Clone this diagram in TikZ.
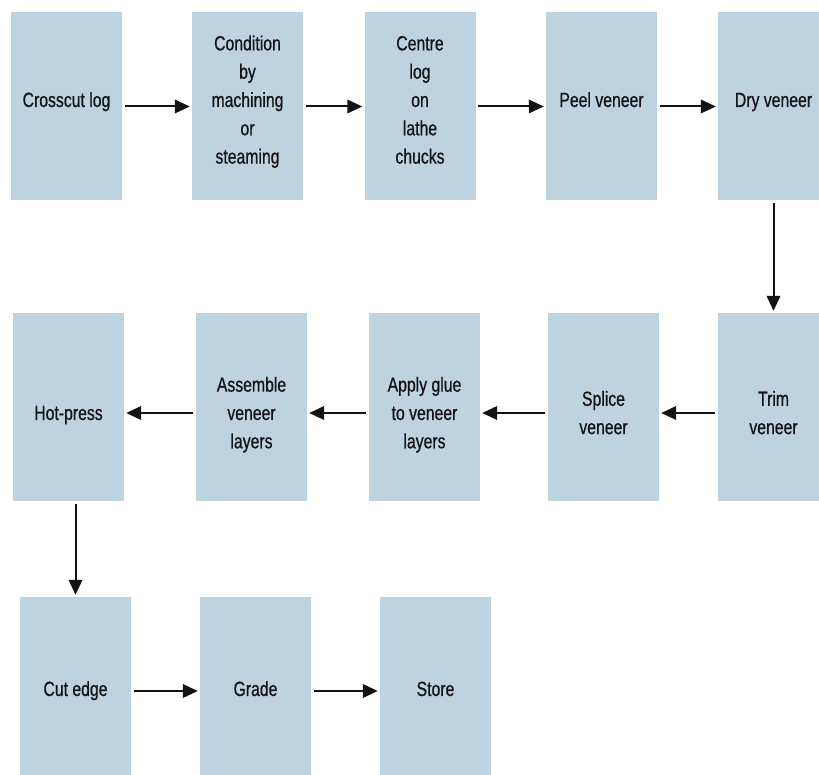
\documentclass[tikz,border=0pt]{standalone}
\usepackage{fontspec}
\setmainfont{Liberation Sans}[FakeStretch=0.77,FakeBold=0.6]
\usetikzlibrary{arrows.meta}
\definecolor{boxfill}{RGB}{189,212,224}
\definecolor{ink}{RGB}{20,18,18}
\newcommand{\lbl}[2]{\raisebox{#1}[0pt][0pt]{\begin{tabular}{@{}c@{}}#2\end{tabular}}}
\tikzset{
  stepbox/.style={rectangle, fill=boxfill, draw=none, minimum width=111pt,
    minimum height=188pt, inner sep=0pt, text=ink,
    font=\fontsize{20.5}{28.3}\selectfont},
  flow/.style={-{Triangle[length=15pt,width=13.5pt]}, line width=2pt, draw=ink,
    shorten <=2.5pt, shorten >=2pt},
}
\begin{document}
\begin{tikzpicture}[x=1pt,y=-1pt]
\useasboundingbox (0,0) rectangle (819,775);
\clip (0,0) rectangle (819,775);
% row 1
\node[stepbox] (b1) at (66.5,106.5) {\lbl{0pt}{Crosscut log}};
\node[stepbox] (b2) at (247.5,106.5) {\lbl{0pt}{Condition\\by\\machining\\or\\steaming}};
\node[stepbox] (b3) at (420,106.5) {\lbl{0pt}{Centre\\log\\on\\lathe\\chucks}};
\node[stepbox] (b4) at (601.5,106.5) {\lbl{0pt}{Peel veneer}};
\node[stepbox] (b5) at (773.5,106.5) {\lbl{0pt}{Dry veneer}};
% row 2
\node[stepbox] (b6) at (773.5,407) {\lbl{-12.5pt}{Trim\\veneer}};
\node[stepbox] (b7) at (603.5,407) {\lbl{-12.5pt}{Splice\\veneer}};
\node[stepbox] (b8) at (424.5,407) {\lbl{-12.5pt}{Apply glue\\to veneer\\layers}};
\node[stepbox] (b9) at (251.5,407) {\lbl{-12.5pt}{Assemble\\veneer\\layers}};
\node[stepbox] (b10) at (68.5,407) {\lbl{-12.5pt}{Hot-press}};
% row 3
\node[stepbox] (b11) at (75.5,691) {\lbl{-4.5pt}{Cut edge}};
\node[stepbox] (b12) at (255.5,691) {\lbl{-4.5pt}{Grade}};
\node[stepbox] (b13) at (435.5,691) {\lbl{-4.5pt}{Store}};
% connectors
\draw[flow] (b1.east) -- (b2.west);
\draw[flow] (b2.east) -- (b3.west);
\draw[flow] (b3.east) -- (b4.west);
\draw[flow] (b4.east) -- (b5.west);
\draw[flow] (b5.south) -- (b6.north);
\draw[flow] ([yshift=-6pt]b6.west) -- ([yshift=-6pt]b7.east);
\draw[flow] ([yshift=-6pt]b7.west) -- ([yshift=-6pt]b8.east);
\draw[flow] ([yshift=-6pt]b8.west) -- ([yshift=-6pt]b9.east);
\draw[flow] ([yshift=-6pt]b9.west) -- ([yshift=-6pt]b10.east);
\draw[flow] (b10.south -| b11.north) -- (b11.north);
\draw[flow] (b11.east) -- (b12.west);
\draw[flow] (b12.east) -- (b13.west);
\end{tikzpicture}
\end{document}
